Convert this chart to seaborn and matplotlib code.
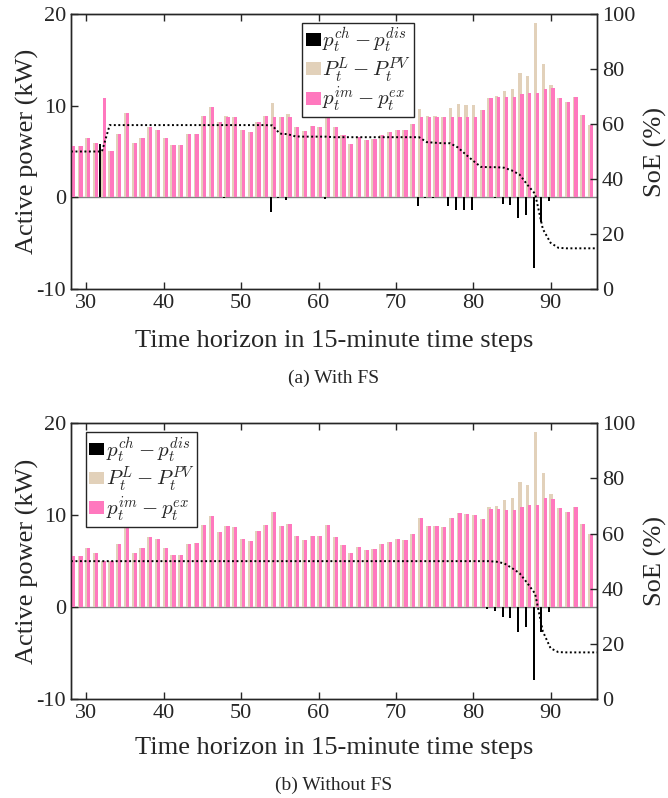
import numpy as np
import pandas as pd
import matplotlib
matplotlib.use("Agg")
import matplotlib.pyplot as plt
import seaborn as sns
from matplotlib.patches import Patch

# ---------------- data ----------------
time_steps = list(range(28, 96))      # bar positions (15-min steps)
soe_steps = list(range(28, 97))       # SoE points

# P_t^L - P_t^PV (net load), kW
net_load = [5.55, 5.55, 6.45, 5.92, 5.04, 5.07, 6.86, 9.20, 5.88, 6.43,   # 28-37
            7.65, 7.38, 6.43, 5.67, 5.67, 6.86, 6.94, 8.90, 9.89, 8.18,   # 38-47
            8.86, 8.75, 7.37, 7.17, 8.26, 8.90, 10.30, 8.80, 9.05, 7.72,  # 48-57
            7.27, 7.73, 7.70, 8.90, 7.65, 6.80, 5.85, 6.54, 6.25, 6.34,   # 58-67
            6.83, 7.08, 7.38, 7.32, 7.96, 9.66, 8.86, 8.82, 8.72, 9.72,   # 68-77
            10.20, 10.10, 10.06, 9.55, 10.85, 11.03, 11.62, 11.82, 13.58, 13.26,  # 78-87
            19.03, 14.55, 12.28, 10.80, 10.36, 10.93, 9.00, 7.92]         # 88-95

# (a) With FS
battery_fs = [0, 0, 0, 0, 5.80, 0, 0, 0, 0, 0,
              0, 0, 0, 0, 0, 0, 0, 0, 0, 0,
              -0.07, 0, 0, 0, 0, 0, -1.56, -0.08, -0.30, 0,
              0, 0, 0, -0.15, 0, 0, 0, 0, 0, 0,
              0, 0, 0, 0, 0, -0.90, -0.12, -0.08, 0, -0.94,
              -1.43, -1.38, -1.33, 0, 0, -0.10, -0.68, -0.83, -2.30, -1.88,
              -7.68, -2.70, -0.40, 0, 0, 0, 0, 0]
grid_fs = [5.55, 5.55, 6.45, 5.92, 10.84, 5.07, 6.86, 9.20, 5.88, 6.43,
           7.65, 7.38, 6.43, 5.67, 5.67, 6.86, 6.94, 8.90, 9.89, 8.18,
           8.79, 8.75, 7.37, 7.17, 8.26, 8.90, 8.74, 8.72, 8.75, 7.72,
           7.27, 7.73, 7.70, 8.75, 7.65, 6.80, 5.85, 6.54, 6.25, 6.34,
           6.83, 7.08, 7.38, 7.32, 7.96, 8.76, 8.74, 8.74, 8.72, 8.78,
           8.77, 8.72, 8.73, 9.55, 10.85, 10.93, 10.94, 10.99, 11.28, 11.38,
           11.35, 11.85, 11.88, 10.80, 10.36, 10.93, 9.00, 7.92]
soe_fs = [50.0, 50.0, 50.0, 50.0, 50.0, 59.6, 59.6, 59.6, 59.6, 59.6,
          59.6, 59.6, 59.6, 59.6, 59.6, 59.6, 59.6, 59.6, 59.6, 59.6,
          59.6, 59.6, 59.6, 59.6, 59.6, 59.6, 59.5, 56.5, 56.3, 55.5,
          55.4, 55.4, 55.4, 55.4, 55.2, 55.2, 55.2, 55.2, 55.2, 55.2,
          55.2, 55.2, 55.2, 55.2, 55.2, 55.2, 53.4, 53.2, 53.0, 53.0,
          51.5, 49.0, 46.6, 44.4, 44.3, 44.3, 44.1, 43.1, 41.6, 37.9,
          34.6, 21.8, 16.8, 15.0, 14.8, 14.8, 14.8, 14.8, 14.8]

# (b) Without FS
battery_nofs = [0] * 54 + [-0.18, -0.40, -1.05, -1.23, -2.68, -2.20, -7.97, -2.68, -0.50] + [0] * 5
grid_nofs = [5.55, 5.55, 6.45, 5.92, 5.04, 5.07, 6.86, 9.20, 5.88, 6.43,
             7.65, 7.38, 6.43, 5.67, 5.67, 6.86, 6.94, 8.90, 9.89, 8.18,
             8.86, 8.75, 7.37, 7.17, 8.26, 8.90, 10.30, 8.80, 9.05, 7.72,
             7.27, 7.73, 7.70, 8.90, 7.65, 6.80, 5.85, 6.54, 6.25, 6.34,
             6.83, 7.08, 7.38, 7.32, 7.96, 9.66, 8.86, 8.82, 8.72, 9.72,
             10.20, 10.10, 10.06, 9.55, 10.67, 10.63, 10.57, 10.59, 10.90, 11.06,
             11.06, 11.87, 11.78, 10.80, 10.36, 10.93, 9.00, 7.92]
soe_nofs = [50.0] * 55 + [49.8, 49.2, 47.5, 45.6, 42.0, 38.2, 24.5, 18.4, 17.0,
                          16.9, 16.9, 16.9, 16.9, 16.9]

x_ticks = [30, 40, 50, 60, 70, 80, 90]
power_ticks = [-10, 0, 10, 20]
soe_ticks = [0, 20, 40, 60, 80, 100]
legend_labels = [r"$p_t^{ch}-p_t^{dis}$", r"$P_t^{L}-P_t^{PV}$", r"$p_t^{im}-p_t^{ex}$"]
captions = ["(a) With FS", "(b) Without FS"]

# ---------------- style ----------------
sns.set_style("ticks")
plt.rcParams["font.family"] = ["Liberation Serif", "DejaVu Serif"]
plt.rcParams["mathtext.fontset"] = "cm"
plt.rcParams["axes.unicode_minus"] = False
plt.rcParams["axes.edgecolor"] = "#262626"
plt.rcParams["xtick.color"] = "#262626"
plt.rcParams["ytick.color"] = "#262626"

C_BAT = "#000000"
C_LOAD = "#E2D1BA"
C_GRID = "#FF78BE"

fig = plt.figure(figsize=(6.68, 7.98), dpi=100)
ax_top = fig.add_axes([0.1063, 0.6378, 0.7874, 0.3447])
ax_bot = fig.add_axes([0.1063, 0.1241, 0.7874, 0.3454])

panels = [
    dict(ax=ax_top, bat=battery_fs, grid=grid_fs, soe=soe_fs, anchor=(0.440, 0.968),
         cap_y=1 - 378 / 798, cap=captions[0], xpad=12),
    dict(ax=ax_bot, bat=battery_nofs, grid=grid_nofs, soe=soe_nofs, anchor=(0.028, 0.968),
         cap_y=1 - 785 / 798, cap=captions[1], xpad=10),
]

t = np.array(time_steps, dtype=float)
for p in panels:
    ax = p["ax"]
    df = pd.DataFrame({"t": t, "load": net_load, "bat": p["bat"], "grid": p["grid"]})
    ax.axhline(0, color="#808080", lw=1.0, zorder=0.5)
    sns.barplot(x=df["t"] + 0.05, y=df["load"], native_scale=True, orient="x", width=0.42,
                color=C_LOAD, saturation=1, linewidth=0, errorbar=None, ax=ax, zorder=2)
    sns.barplot(x=df["t"] + 0.30, y=df["grid"], native_scale=True, orient="x", width=0.42,
                color=C_GRID, saturation=1, linewidth=0, errorbar=None, ax=ax, zorder=3)
    sns.barplot(x=df["t"] - 0.20, y=df["bat"], native_scale=True, orient="x", width=0.26,
                color=C_BAT, saturation=1, linewidth=0, errorbar=None, ax=ax, zorder=4)
    ax.set_xlim(28, 96)
    ax.set_ylim(-10, 20)
    ax.set_xticks(x_ticks)
    ax.set_xticklabels([str(v) for v in x_ticks])
    ax.set_yticks(power_ticks)
    ax.set_yticklabels([str(v) for v in power_ticks])
    ax.tick_params(axis="both", direction="in", length=5, width=1, labelsize=16, top=True, right=False)
    ax.set_xlabel("Time horizon in 15-minute time steps", fontsize=19, labelpad=p["xpad"])
    ax.set_ylabel("Active power (kW)", fontsize=19, labelpad=-2)

    ax2 = ax.twinx()
    ax2.set_zorder(ax.get_zorder() + 1)
    ax2.patch.set_visible(False)
    sdf = pd.DataFrame({"t": soe_steps, "soe": p["soe"]})
    sns.lineplot(data=sdf, x="t", y="soe", ax=ax2, color="black", linestyle=(0, (1, 1.3)),
                 linewidth=1.4)
    ax2.set_ylim(0, 100)
    ax2.set_xlim(28, 96)
    ax2.set_yticks(soe_ticks)
    ax2.set_yticklabels([str(v) for v in soe_ticks])
    ax2.tick_params(axis="y", direction="in", length=5, width=1, labelsize=16)
    ax2.set_ylabel("SoE (%)", fontsize=19, labelpad=6)
    for sp in list(ax.spines.values()) + list(ax2.spines.values()):
        sp.set_linewidth(1.0)
        sp.set_color("#262626")

    handles = [Patch(facecolor=c, edgecolor="none") for c in (C_BAT, C_LOAD, C_GRID)]
    leg = ax2.legend(handles, legend_labels, loc="upper left", bbox_to_anchor=p["anchor"],
                     fontsize=15, frameon=True, fancybox=False, framealpha=1,
                     edgecolor="#262626", handlelength=0.75, handleheight=0.55,
                     handletextpad=0.05, labelspacing=0.0, borderpad=0.15,
                     borderaxespad=0)
    leg.get_frame().set_linewidth(1.0)
    leg.set_zorder(10)

    fig.text(0.5, p["cap_y"], p["cap"], ha="center", va="center", fontsize=14)

fig.savefig("out.png", dpi=100)
